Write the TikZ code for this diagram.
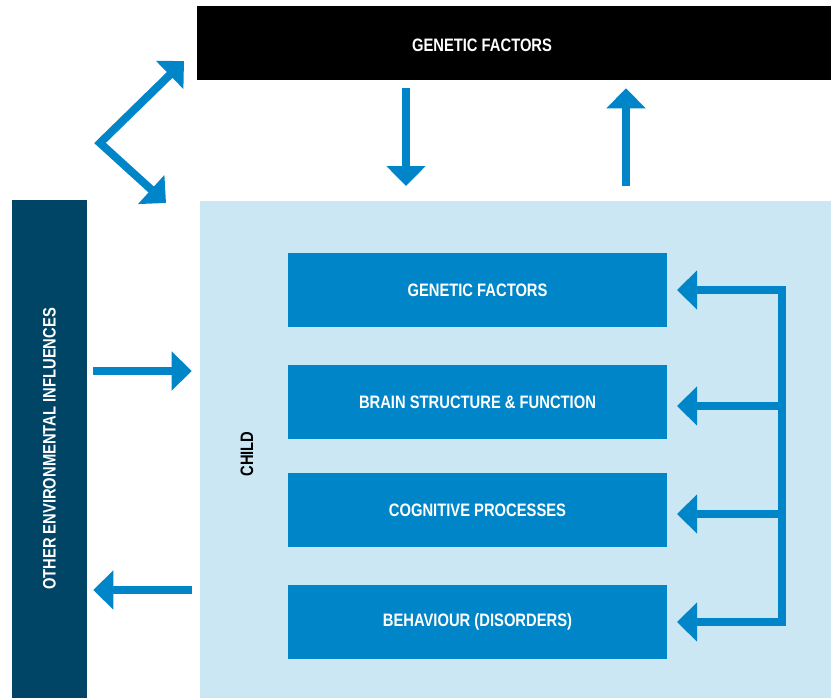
\documentclass[tikz,border=0pt]{standalone}
\usepackage{fontspec}
\setmainfont{Liberation Sans}[FakeStretch=0.82]
\usepackage{tikz}
\usetikzlibrary{positioning, arrows.meta}

\definecolor{cblue}{RGB}{0,134,200}
\definecolor{clight}{RGB}{204,231,244}
\definecolor{cdark}{RGB}{0,68,102}

\begin{document}
\begin{tikzpicture}[x=0.75pt, y=-0.75pt, font=\bfseries\fontsize{13.5}{16}\selectfont]
	\tikzstyle{stepbox}=[rectangle, fill=cblue, text=white, inner sep=0pt, outer sep=0pt, minimum width=284.25pt, minimum height=55.5pt]
	\tikzstyle{arr}=[draw=cblue, line width=6pt, -{Triangle[length=15pt, width=28.5pt]}]
	\useasboundingbox (0,0) rectangle (831,698);
	% outer blocks
	\node[fill=black, minimum width=475.5pt, minimum height=55.5pt, inner sep=0pt, label={[text=white, xshift=-24pt, yshift=-1.5pt]center:GENETIC FACTORS}](gen) at (514,43){};
	\node[fill=clight, minimum width=473.25pt, minimum height=372.75pt, inner sep=0pt](child) at (515.5,449.5){};
	\node[fill=cdark, text=white, rotate=90, minimum width=373.5pt, minimum height=56.25pt, inner sep=0pt](env) at (49.5,449){OTHER ENVIRONMENTAL INFLUENCES};
	\node[rotate=90, text=black](childlbl) at (247,454){CHILD};
	% inner blocks
	\node[stepbox](b1) at (477.5,290){GENETIC FACTORS};
	\node[stepbox](b2) at (477.5,402){BRAIN STRUCTURE \& FUNCTION};
	\node[stepbox](b3) at (477.5,510){COGNITIVE PROCESSES};
	\node[stepbox](b4) at (477.5,622){BEHAVIOUR (DISORDERS)};
	% helper coordinates
	\coordinate (dn) at (406,0);
	\coordinate (up) at (626,0);
	\coordinate (in) at (0,371);
	\coordinate (out) at (0,590);
	\coordinate (rail) at (782,0);
	\coordinate (tipA) at (184,61);
	\coordinate (bend) at (100,143);
	\coordinate (tipB) at (166,203);
	% arrows
	\draw[arr, shorten <=6pt] (dn |- gen.south) -- (dn |- child.north) [shorten >=11pt];
	\draw[arr, shorten <=11pt, shorten >=6pt] (up |- child.north) -- (up |- gen.south);
	\draw[arr, shorten <=4.5pt, shorten >=6pt] (env.south |- in) -- (child.west |- in);
	\draw[arr, shorten <=6pt, shorten >=4.5pt] (child.west |- out) -- (env.south |- out);
	\draw[arr, {Triangle[length=15pt, width=28.5pt]}-{Triangle[length=15pt, width=28.5pt]}, miter limit=4] (tipA) -- (bend) -- (tipB);
	\draw[arr, {Triangle[length=15pt, width=28.5pt]}-{Triangle[length=15pt, width=28.5pt]}, shorten <=7.5pt, shorten >=7.5pt] (b1.east) -- (rail |- b1.east) -- (rail |- b4.east) -- (b4.east);
	\draw[arr, shorten >=7.5pt] ([yshift=-3pt]rail |- b2.east) -- ([yshift=-3pt]b2.east);
	\draw[arr, shorten >=7.5pt] ([yshift=-3pt]rail |- b3.east) -- ([yshift=-3pt]b3.east);
\end{tikzpicture}
\end{document}
